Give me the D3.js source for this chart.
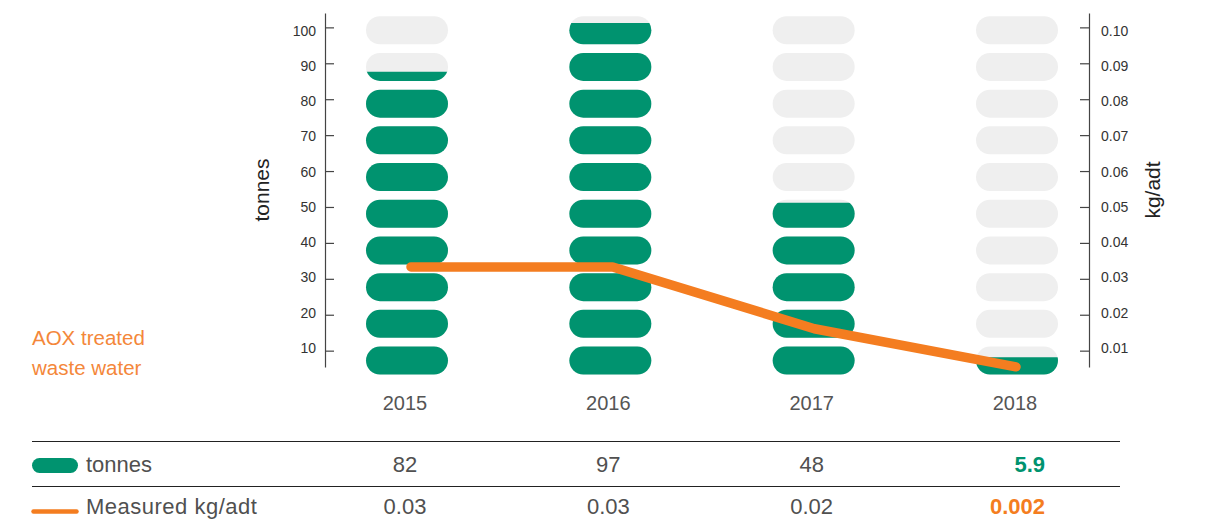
<!DOCTYPE html>
<html><head><meta charset="utf-8">
<script src="https://cdn.jsdelivr.net/npm/d3@7"></script>
<style>
body{margin:0;background:#fff;}
text{font-family:"Liberation Sans",Arial,sans-serif;}
</style></head>
<body><svg id="chart" width="1205" height="527"></svg>
<script>
const years = ["2015","2016","2017","2018"];
const tonnes = [83.7, 97, 48, 5.9];
const kgPerAdt = [0.0333, 0.0333, 0.0161, 0.0055];
const tonnesLabels = ["82","97","48","5.9"];
const kgLabels = ["0.03","0.03","0.02","0.002"];
const leftTicks = [10,20,30,40,50,60,70,80,90,100];
const rightTicks = [0.01,0.02,0.03,0.04,0.05,0.06,0.07,0.08,0.09,0.10];
const pillSteps = d3.range(0,100,10);

const GREEN = "#00936f", GRAY = "#efefef", ORANGE = "#f47d20", TEXT = "#505050";
const svg = d3.select("#chart");

const xBar = d3.scalePoint().domain(years).range([407, 1017]);
const xLine = d3.scalePoint().domain(years).range([411, 1016]);
const yPill = d3.scaleLinear().domain([0,100]).range([378.9, 11.9]);
const yLeft = d3.scaleLinear().domain([5.45, 104]).range([367, 13]);
const yRight = d3.scaleLinear().domain([0.00545, 0.104]).range([367, 13]);
const yLeftLabel = d3.scaleLinear().domain([10, 100]).range([348, 30.7]);
const yRightLabel = d3.scaleLinear().domain([0.01, 0.10]).range([348, 30.7]);

const pillW = 82, pillH = 28;

// clip paths for fill levels
const defs = svg.append("defs");
years.forEach((yr,i)=>{
  defs.append("clipPath").attr("id","clip"+yr)
    .append("rect").attr("x", xBar(yr)-pillW/2-2).attr("width", pillW+4)
    .attr("y", yPill(tonnes[i])).attr("height", yPill(0)-yPill(tonnes[i])+2);
});

// pills
const cols = svg.append("g").selectAll("g").data(years).join("g");
cols.each(function(yr){
  const g = d3.select(this);
  g.selectAll("rect.bg").data(pillSteps).join("rect").attr("class","bg")
    .attr("x", xBar(yr)-pillW/2).attr("width", pillW)
    .attr("y", d=>yPill(d+5)-pillH/2).attr("height", pillH)
    .attr("rx", pillH/2).attr("fill", GRAY);
  g.append("g").attr("clip-path","url(#clip"+yr+")")
    .selectAll("rect").data(pillSteps).join("rect")
    .attr("x", xBar(yr)-pillW/2).attr("width", pillW)
    .attr("y", d=>yPill(d+5)-pillH/2).attr("height", pillH)
    .attr("rx", pillH/2).attr("fill", GREEN);
});

// axes
const gl = svg.append("g").attr("transform","translate(325,0)")
  .call(d3.axisLeft(yLeft).tickValues(leftTicks).tickSizeInner(-9).tickSizeOuter(0).tickPadding(9).tickFormat(d3.format("d")));
const gr = svg.append("g").attr("transform","translate(1089,0)")
  .call(d3.axisRight(yRight).tickValues(rightTicks).tickSizeInner(-9).tickSizeOuter(0).tickPadding(12).tickFormat(d3.format(".2f")));
[gl,gr].forEach(g=>{
  g.select(".domain").attr("stroke","#444").attr("stroke-width",1.2);
  g.selectAll(".tick line").attr("stroke","#444").attr("stroke-width",1.2);
  g.selectAll(".tick text").attr("fill","#333").style("font-size","14px").style("font-family","'Liberation Sans',Arial,sans-serif");
});
gl.selectAll(".tick text").attr("y", d=>yLeftLabel(d)-yLeft(d));
gr.selectAll(".tick text").attr("y", d=>yRightLabel(d)-yRight(d));

// axis titles
svg.append("text").attr("transform","translate(269,190) rotate(-90)")
  .attr("text-anchor","middle").attr("fill","#222").style("font-size","21px").text("tonnes");
svg.append("text").attr("transform","translate(1160,190) rotate(-90)")
  .attr("text-anchor","middle").attr("fill","#222").style("font-size","21px").text("kg/adt");

// year labels
svg.append("g").selectAll("text").data(years).join("text")
  .attr("x", d=>xBar(d)-2).attr("y", 410).attr("text-anchor","middle")
  .attr("fill", "#555").style("font-size","20px").text(d=>d);

// line
const line = d3.line().x((d,i)=>xLine(years[i])).y(d=>yRight(d));
svg.append("path").datum(kgPerAdt).attr("d", line)
  .attr("fill","none").attr("stroke",ORANGE).attr("stroke-width",9.5)
  .attr("stroke-linecap","round").attr("stroke-linejoin","round");

// side label
svg.append("text").attr("x",32).attr("y",345).attr("fill","#f4873a").style("font-size","20.5px").text("AOX treated");
svg.append("text").attr("x",32).attr("y",375).attr("fill","#f4873a").style("font-size","20.5px").text("waste water");

// table
svg.append("line").attr("x1",32).attr("x2",1120).attr("y1",441.5).attr("y2",441.5).attr("stroke","#222").attr("stroke-width",1.2);
svg.append("line").attr("x1",32).attr("x2",1120).attr("y1",486.5).attr("y2",486.5).attr("stroke","#222").attr("stroke-width",1.2);
svg.append("rect").attr("x",32).attr("y",458).attr("width",46).attr("height",15).attr("rx",7.5).attr("fill",GREEN);
svg.append("line").attr("x1",33.5).attr("x2",76.5).attr("y1",511.5).attr("y2",511.5).attr("stroke",ORANGE).attr("stroke-width",4.5).attr("stroke-linecap","round");
svg.append("text").attr("x",86).attr("y",471.7).attr("fill",TEXT).style("font-size","22px").text("tonnes");
svg.append("text").attr("x",86).attr("y",514.3).attr("fill",TEXT).style("font-size","22px").style("letter-spacing","0.5px").text("Measured kg/adt");

const cellX = (i)=> i===3 ? 1045 : xBar(years[i])-2;
const cellAnchor = (i)=> i===3 ? "end" : "middle";
svg.append("g").selectAll("text").data(tonnesLabels).join("text")
  .attr("x",(d,i)=>cellX(i)).attr("y",471.7).attr("text-anchor",(d,i)=>cellAnchor(i))
  .attr("fill",(d,i)=>i===3?GREEN:TEXT).style("font-weight",(d,i)=>i===3?"bold":"normal")
  .style("font-size","22px").text(d=>d);
svg.append("g").selectAll("text").data(kgLabels).join("text")
  .attr("x",(d,i)=>cellX(i)).attr("y",514.3).attr("text-anchor",(d,i)=>cellAnchor(i))
  .attr("fill",(d,i)=>i===3?ORANGE:TEXT).style("font-weight",(d,i)=>i===3?"bold":"normal")
  .style("font-size","22px").text(d=>d);
</script></body></html>
